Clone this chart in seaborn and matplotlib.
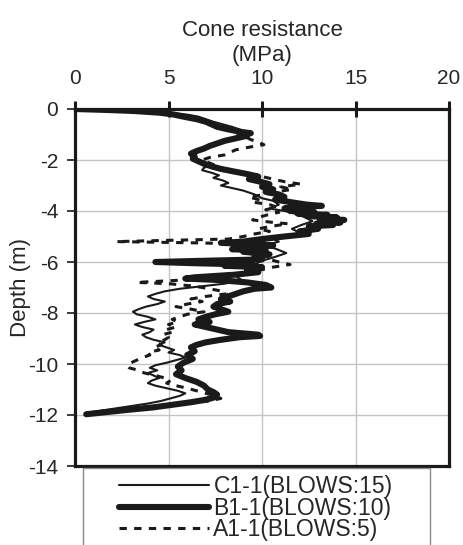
import numpy as np
import pandas as pd
import seaborn as sns
import matplotlib.pyplot as plt
from matplotlib.patches import Rectangle

# C1-1 (BLOWS:15) - thin solid line
c1_depth = [0, -0.03, -0.06, -0.1, -0.15, -0.22, -0.3, -0.4, -0.5, -0.6, -0.7, -0.8, -0.9, -1.0, -1.1,
            -1.2, -1.35, -1.5, -1.65, -1.8, -1.95, -2.1, -2.2, -2.3, -2.4, -2.5, -2.6, -2.7, -2.8, -2.9,
            -3.0, -3.1, -3.2, -3.35, -3.5, -3.6, -3.75, -3.9, -4.0, -4.1, -4.25, -4.4, -4.55, -4.7, -4.85,
            -5.0, -5.1, -5.2, -5.35, -5.5, -5.65, -5.8, -5.95, -6.1, -6.25, -6.4, -6.55, -6.7, -6.85, -6.95,
            -7.05, -7.15, -7.25, -7.35, -7.45, -7.55, -7.65, -7.75, -7.85, -7.95, -8.05, -8.15, -8.25, -8.35,
            -8.45, -8.55, -8.65, -8.75, -8.85, -8.95, -9.05, -9.15, -9.25, -9.35, -9.45, -9.55, -9.65, -9.75,
            -9.85, -9.95, -10.05, -10.15, -10.25, -10.35, -10.45, -10.55, -10.65, -10.75, -10.85, -10.95,
            -11.05, -11.15, -11.25, -11.35, -11.45, -11.55, -11.65, -11.75, -11.85, -11.92]
c1_qc = [0.0, 1.0, 2.5, 4.0, 5.2, 6.0, 6.6, 7.0, 7.4, 7.9, 8.4, 8.8, 9.1, 8.9, 8.6,
         8.0, 7.4, 7.0, 6.6, 6.3, 6.5, 7.0, 7.4, 6.9, 6.8, 7.3, 7.7, 7.4, 7.9, 8.2,
         7.8, 8.4, 9.0, 9.6, 10.0, 10.6, 10.9, 10.4, 11.2, 11.8, 12.3, 12.7, 12.1, 11.6, 12.0,
         11.3, 10.6, 10.9, 10.2, 10.8, 11.3, 10.7, 10.0, 9.6, 9.9, 9.1, 8.6, 8.9, 8.0, 6.8,
         5.6, 4.8, 4.3, 3.9, 4.2, 4.8, 4.4, 3.8, 3.4, 3.1, 3.3, 3.9, 4.3, 3.7,
         3.2, 3.6, 4.2, 4.0, 3.6, 3.8, 4.2, 4.8, 4.5, 4.9, 5.3, 5.0, 5.6, 5.9,
         5.4, 4.9, 4.3, 4.0, 4.4, 3.9, 4.2, 4.5, 4.1, 3.9, 4.3, 4.9,
         5.5, 5.9, 5.6, 5.1, 4.6, 3.9, 3.0, 2.1, 1.2, 0.6]

# B1-1 (BLOWS:10) - thick solid line
b1_depth = [0, -0.04, -0.08, -0.15, -0.22, -0.3, -0.4, -0.5, -0.6, -0.7, -0.8, -0.9, -0.95, -1.0, -1.05,
            -1.15, -1.25, -1.35, -1.45, -1.55, -1.65, -1.75, -1.85, -1.95, -2.05, -2.15, -2.25, -2.35, -2.45,
            -2.55, -2.65, -2.75, -2.85, -2.95, -3.05, -3.15, -3.25, -3.35, -3.45, -3.55, -3.65, -3.75, -3.8,
            -3.85, -3.9, -3.95, -4.0, -4.05, -4.1, -4.15, -4.2, -4.25, -4.3, -4.35, -4.4, -4.45, -4.5, -4.55,
            -4.6, -4.7, -4.8, -4.9, -5.0, -5.1, -5.2, -5.25, -5.3, -5.35, -5.4, -5.5, -5.55, -5.6, -5.7, -5.8,
            -5.9, -5.95, -6.0, -6.05, -6.1, -6.15, -6.2, -6.3, -6.4, -6.5, -6.6, -6.65, -6.7, -6.8, -6.9, -7.0,
            -7.05, -7.15, -7.25, -7.35, -7.45, -7.55, -7.65, -7.75, -7.85, -7.95, -8.05, -8.15, -8.25, -8.35,
            -8.45, -8.55, -8.65, -8.75, -8.85, -8.9, -8.95, -9.05, -9.15, -9.25, -9.35, -9.5, -9.65, -9.8,
            -9.95, -10.1, -10.25, -10.4, -10.55, -10.7, -10.85, -11.0, -11.1, -11.2, -11.3, -11.4, -11.5,
            -11.6, -11.7, -11.8, -11.9, -11.97]
b1_qc = [0.0, 1.8, 3.2, 4.6, 5.3, 5.8, 6.5, 7.0, 7.3, 7.6, 8.2, 8.9, 9.4, 8.8, 9.2,
         8.6, 8.0, 7.6, 7.2, 6.9, 6.5, 6.2, 6.4, 6.3, 6.6, 6.9, 7.3, 7.8, 8.5,
         9.2, 9.8, 9.3, 9.9, 10.4, 10.0, 10.6, 10.2, 10.9, 11.2, 10.7, 11.5, 12.4, 13.2,
         12.0, 11.2, 12.6, 11.5, 12.8, 11.9, 13.5, 12.4, 14.0, 13.1, 14.4, 13.6, 14.2, 12.9, 13.8,
         12.5, 13.0, 12.0, 12.5, 11.2, 10.0, 9.0, 7.8, 9.5, 10.6, 9.2, 8.4, 10.2, 9.0, 10.4, 9.6,
         10.0, 7.0, 4.3, 6.5, 9.5, 8.0, 10.0, 9.2, 9.8, 8.5, 6.4, 5.9, 7.5, 9.2, 10.2, 10.5,
         9.6, 9.0, 8.6, 8.2, 7.8, 8.3, 7.6, 7.4, 7.8, 8.2, 7.5, 7.0, 6.6, 7.2,
         6.4, 7.0, 7.6, 8.2, 9.8, 9.9, 8.8, 7.8, 7.0, 6.5, 6.2, 6.4, 6.0, 6.3,
         5.8, 5.5, 5.7, 5.4, 5.9, 6.5, 6.9, 7.1, 7.4, 7.6, 7.5, 7.0, 6.2,
         5.2, 4.2, 2.8, 1.5, 0.6]

# A1-1 (BLOWS:5) - dashed line
a1_depth = [0, -0.05, -0.1, -0.2, -0.3, -0.45, -0.6, -0.75, -0.9, -1.05, -1.2, -1.3, -1.4, -1.5, -1.6,
            -1.7, -1.8, -1.9, -2.0, -2.15, -2.3, -2.45, -2.55, -2.65, -2.75, -2.85, -2.95, -3.05, -3.15,
            -3.25, -3.35, -3.45, -3.55, -3.65, -3.75, -3.85, -3.95, -4.05, -4.15, -4.25, -4.35, -4.45, -4.5,
            -4.6, -4.7, -4.8, -4.9, -5.0, -5.1, -5.15, -5.2, -5.25, -5.3, -5.4, -5.5, -5.6, -5.7, -5.8, -5.9,
            -6.0, -6.1, -6.2, -6.3, -6.4, -6.5, -6.6, -6.7, -6.8, -6.85, -6.95, -7.05, -7.15, -7.25, -7.35,
            -7.45, -7.55, -7.65, -7.75, -7.85, -7.95, -8.05, -8.15, -8.25, -8.35, -8.45, -8.55, -8.65, -8.75,
            -8.85, -8.95, -9.05, -9.15, -9.25, -9.35, -9.45, -9.55, -9.65, -9.75, -9.85, -9.95, -10.05,
            -10.15, -10.25, -10.35, -10.45, -10.55, -10.65, -10.75, -10.85, -10.95, -11.05, -11.15, -11.25,
            -11.35, -11.45, -11.55, -11.65, -11.75, -11.85, -11.93]
a1_qc = [0.0, 1.5, 3.0, 4.8, 5.9, 6.8, 7.6, 8.2, 8.6, 9.0, 9.4, 9.8, 10.1, 9.3, 8.6,
         8.3, 8.0, 7.2, 6.8, 7.3, 7.8, 8.6, 9.3, 10.0, 10.6, 11.2, 12.1, 11.0, 11.6,
         10.8, 10.2, 9.3, 9.8, 9.5, 10.4, 10.8, 10.2, 10.9, 10.3, 9.8, 9.5, 10.6, 11.4,
         10.5, 9.8, 10.4, 9.6, 9.0, 8.2, 5.0, 2.2, 6.5, 9.5, 10.0, 9.3, 9.8, 10.2, 9.6, 10.4,
         10.9, 11.5, 10.6, 10.0, 9.4, 8.6, 7.8, 6.0, 3.3, 5.0, 6.4, 7.2, 7.9, 8.1, 7.0,
         6.2, 6.8, 6.0, 5.4, 6.2, 6.9, 6.0, 5.6, 5.2, 5.5, 5.0, 5.4, 4.9, 5.2,
         4.7, 5.0, 4.8, 4.4, 4.6, 4.2, 4.5, 3.9, 4.0, 3.6, 3.3, 3.0, 2.8,
         2.9, 3.4, 3.7, 4.3, 4.8, 5.1, 4.9, 5.4, 6.0, 6.5, 7.0, 7.5,
         7.8, 7.2, 5.8, 4.3, 2.8, 1.5, 0.7]

labels = ['C1-1(BLOWS:15)', 'B1-1(BLOWS:10)', 'A1-1(BLOWS:5)']

sns.set_style("white")
plt.rcParams['font.family'] = ['Liberation Sans', 'DejaVu Sans']
plt.rcParams['axes.unicode_minus'] = False

fig = plt.figure(figsize=(4.63, 5.45), dpi=100)
ax = fig.add_axes([75 / 463, 1 - 466 / 545, 374 / 463, 357 / 545])

ink = '#1a1a1a'
sns.lineplot(x=c1_qc, y=c1_depth, sort=False, estimator=None, color=ink, lw=1.5, ax=ax, label=labels[0])
sns.lineplot(x=b1_qc, y=b1_depth, sort=False, estimator=None, color=ink, lw=4.4, ax=ax, label=labels[1])
sns.lineplot(x=a1_qc, y=a1_depth, sort=False, estimator=None, color=ink, lw=2.2, ax=ax, label=labels[2],
             dashes=False, linestyle=(0, (2.4, 2.4)))

ax.set_xlim(0, 20)
ax.set_ylim(-14, 0)
ax.set_xticks([0, 5, 10, 15, 20])
ax.set_yticks(np.arange(-14, 1, 2))
ax.grid(True, color='#c4c4c4', lw=1)
ax.set_axisbelow(True)

ax.xaxis.tick_top()
ax.xaxis.set_label_position('top')
ax.tick_params(axis='x', direction='inout', length=12, width=2.2, pad=9, labelsize=15, color=ink)
ax.tick_params(axis='y', direction='out', length=6, width=1.2, pad=6, labelsize=15, color=ink, left=True)
ax.set_xlabel('Cone resistance\n(MPa)', fontsize=16, labelpad=6, linespacing=1.25)
ax.set_ylabel('Depth (m)', fontsize=16, labelpad=-2)

for s in ax.spines.values():
    s.set_visible(True)
    s.set_linewidth(2.3)
    s.set_color(ink)

handles, labs = ax.get_legend_handles_labels()
ax.get_legend().remove()
fig.legend(handles, labs, loc='upper center', bbox_to_anchor=(256 / 463, 1 - 464 / 545),
           frameon=False, fontsize=16.5, handlelength=3.9, handletextpad=0.2,
           labelspacing=-0.08, borderpad=0.0)
fig.add_artist(Rectangle((83 / 463, -0.05), 347 / 463, 0.05 + 77 / 545, transform=fig.transFigure,
                         fill=False, edgecolor='#8a8a8a', lw=1))

fig.savefig('out.png', dpi=100)
